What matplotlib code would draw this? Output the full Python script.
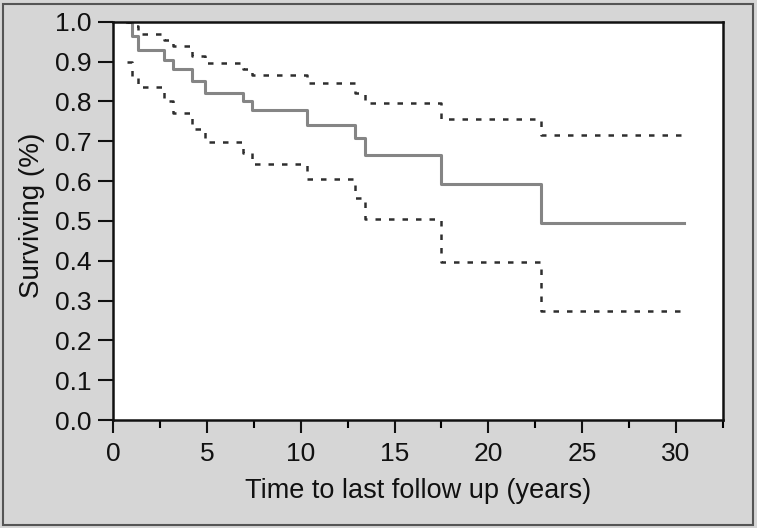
import matplotlib
matplotlib.use("Agg")
import matplotlib.pyplot as plt
from matplotlib.patches import Rectangle
from matplotlib.ticker import MultipleLocator

plt.rcParams['font.family'] = ['Liberation Sans', 'DejaVu Sans']
FS = 19

# Step times (years) and survival values after each step
times = [0.75, 1.0, 1.35, 2.7, 3.2, 4.2, 4.9, 6.9, 7.4, 10.35, 12.9, 13.4, 17.5, 22.8]
survival = [1.0, 0.965, 0.93, 0.905, 0.88, 0.85, 0.822, 0.80, 0.778, 0.741, 0.709, 0.665, 0.593, 0.494]
upper_ci = [1.0, 0.99, 0.97, 0.955, 0.94, 0.915, 0.897, 0.88, 0.865, 0.845, 0.82, 0.797, 0.756, 0.716]
lower_ci = [0.90, 0.86, 0.835, 0.80, 0.77, 0.73, 0.697, 0.67, 0.643, 0.604, 0.557, 0.505, 0.396, 0.273]
end_time = 30.4

xticks = [0, 5, 10, 15, 20, 25, 30]
yticks = [0.0, 0.1, 0.2, 0.3, 0.4, 0.5, 0.6, 0.7, 0.8, 0.9, 1.0]

fig = plt.figure(figsize=(7.57, 5.28), dpi=100)
fig.patch.set_facecolor('#d6d6d6')
fig.patches.append(Rectangle((3/757, 3/528), 1 - 7/757, 1 - 7/528, transform=fig.transFigure,
                             fill=False, edgecolor='#555555', linewidth=1.5))

ax = fig.add_axes([113/757, 1 - 420/528, (723 - 113)/757, (420 - 21.7)/528])
ax.set_facecolor('white')

def stepxy(t, v, tend):
    xs = list(t) + [tend]
    ys = list(v) + [v[-1]]
    return xs, ys

xs, ys = stepxy(times, survival, end_time)
ax.step(xs, ys, where='post', color='#858585', linewidth=2.2)
xs, ys = stepxy(times, upper_ci, end_time)
ax.step(xs, ys, where='post', color='#2e2e2e', linewidth=1.8, linestyle=(0, (2.2, 3.2)))
xs, ys = stepxy(times, lower_ci, end_time)
ax.step(xs, ys, where='post', color='#2e2e2e', linewidth=1.8, linestyle=(0, (2.2, 3.2)))

ax.set_xlim(0, 32.5)
ax.set_ylim(0, 1.0)
ax.set_xticks(xticks)
ax.set_xticklabels([str(x) for x in xticks])
ax.xaxis.set_minor_locator(MultipleLocator(2.5))
ax.set_yticks(yticks)
ax.set_yticklabels([f"{y:.1f}" for y in yticks])

for s in ax.spines.values():
    s.set_linewidth(1.8)
    s.set_color('#111111')

ax.tick_params(axis='y', which='major', direction='out', length=11, width=1.5, labelsize=FS, pad=4.5, colors='#111111')
ax.tick_params(axis='x', which='major', direction='out', length=9.5, width=1.5, labelsize=FS, pad=6, colors='#111111')
ax.tick_params(axis='x', which='minor', direction='out', length=6, width=1.5)

ax.set_xlabel('Time to last follow up (years)', fontsize=19.5, labelpad=9, color='#111111')
ax.set_ylabel('Surviving (%)', fontsize=20, color='#111111')
ax.yaxis.set_label_coords(-68/610, (420 - 215) / 398.3)

fig.savefig('out.png', dpi=100, facecolor=fig.get_facecolor())
